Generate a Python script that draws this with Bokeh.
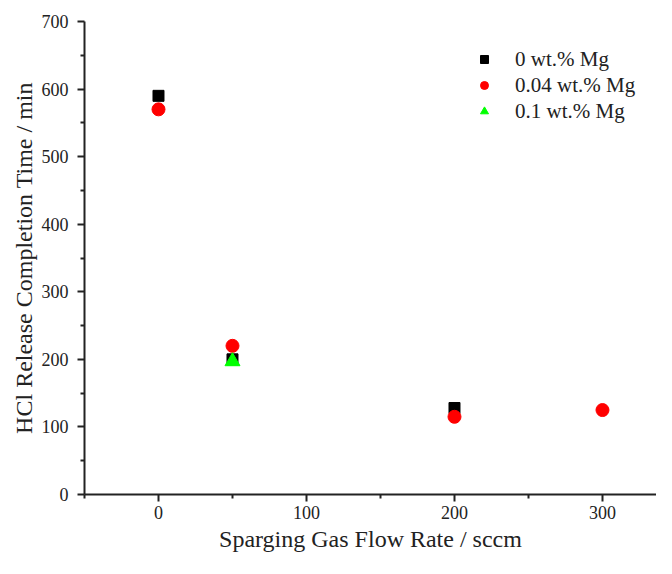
from bokeh.plotting import figure
from bokeh.models import Legend, LegendItem, FixedTicker, Range1d
from bokeh.embed import file_html
from bokeh.resources import INLINE

# data
x_0 = [0, 50, 200]
y_0 = [590, 200, 128]
x_004 = [0, 50, 200, 300]
y_004 = [570, 220, 115, 125]
x_01 = [50]
y_01 = [197]
x_ticks = [0, 100, 200, 300]
y_ticks = [0, 100, 200, 300, 400, 500, 600, 700]

FONT = "Liberation Serif"

p = figure(width=656, height=558, output_backend="svg", toolbar_location=None,
           x_range=Range1d(-50, 336.5), y_range=Range1d(0, 700),
           min_border_left=84, min_border_right=0, min_border_top=21, min_border_bottom=64)
p.outline_line_color = None
p.xgrid.visible = False
p.ygrid.visible = False

r0 = p.scatter(x_0, y_0, marker="square", size=11, fill_color="black", line_color="black")
r1 = p.scatter(x_004, y_004, marker="circle", size=13, fill_color="red", line_color="red")
r2 = p.scatter(x_01, y_01, marker="triangle", size=15, fill_color="#00ff00", line_color="#00ff00")

for ax in (p.xaxis[0], p.yaxis[0]):
    ax.axis_line_width = 2
    ax.axis_line_color = "#222222"
    ax.major_tick_line_width = 2
    ax.minor_tick_line_width = 2
    ax.major_tick_line_color = "#222222"
    ax.minor_tick_line_color = "#222222"
    ax.major_tick_out = 7
    ax.major_tick_in = 0
    ax.minor_tick_out = 4
    ax.minor_tick_in = 0
    ax.major_label_text_font = FONT
    ax.major_label_text_font_size = "18px"
    ax.major_label_text_color = "#222222"
    ax.axis_label_text_font = FONT
    ax.axis_label_text_font_style = "normal"
    ax.axis_label_text_color = "#222222"

p.xaxis.axis_label_text_font_size = "24px"
p.yaxis.axis_label_text_font_size = "24px"
p.xaxis.ticker = FixedTicker(ticks=x_ticks, minor_ticks=[-50, 50, 150, 250, 350])
p.yaxis.ticker = FixedTicker(ticks=y_ticks, minor_ticks=[50, 150, 250, 350, 450, 550, 650])
p.xaxis.axis_label = "Sparging Gas Flow Rate / sccm"
p.yaxis.axis_label = "HCl Release Completion Time / min"
p.xaxis.major_label_standoff = 4
p.xaxis.axis_label_standoff = 4
p.yaxis.major_label_standoff = 9
p.yaxis.axis_label_standoff = 2

legend = Legend(items=[
    LegendItem(label="0 wt.% Mg", renderers=[r0]),
    LegendItem(label="0.04 wt.% Mg", renderers=[r1]),
    LegendItem(label="0.1 wt.% Mg", renderers=[r2]),
], location=(390, 370))
legend.border_line_color = None
legend.background_fill_alpha = 0
legend.label_text_font = FONT
legend.label_text_font_size = "21px"
legend.label_text_color = "#222222"
legend.glyph_width = 20
legend.glyph_height = 26
legend.label_height = 26
legend.spacing = 0
legend.padding = 10
legend.label_standoff = 21
p.add_layout(legend)

open("out.html", "w").write(file_html(p, INLINE))
